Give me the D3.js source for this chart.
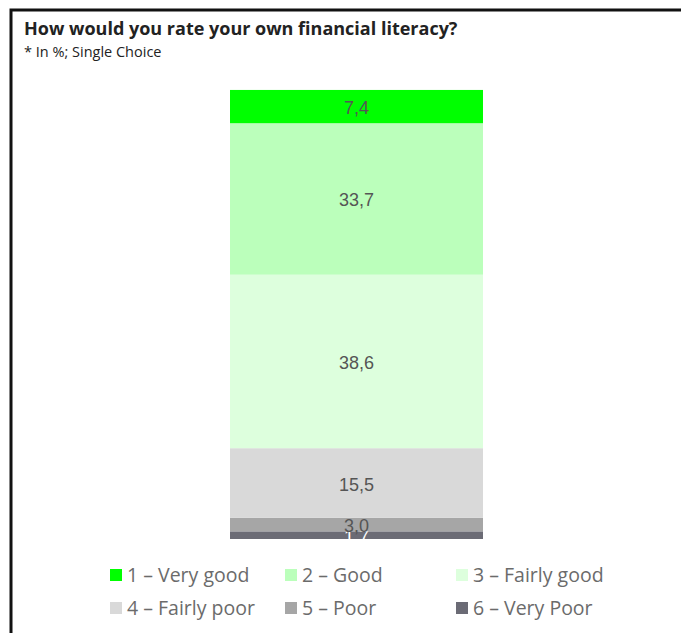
<!DOCTYPE html>
<html>
<head>
<meta charset="utf-8">
<script src="https://cdn.jsdelivr.net/npm/d3@7"></script>
<style>
  body { margin: 0; background: #fff; }
  svg { display: block; }
</style>
</head>
<body>
<div id="chart"></div>
<script>
// data
const categories = ["1 – Very good", "2 – Good", "3 – Fairly good", "4 – Fairly poor", "5 – Poor", "6 – Very Poor"];
const values = [7.4, 33.7, 38.6, 15.5, 3.0, 1.7];
const colors = ["#00ff00", "#bbffbb", "#ddffdd", "#d9d9d9", "#a6a6a6", "#6b6b75"];
const labelColors = ["#555555", "#555555", "#555555", "#555555", "#555555", "#ffffff"];

const width = 681, height = 633;

const svg = d3.select("#chart")
    .append("svg")
    .attr("width", width)
    .attr("height", height);

// frame (only top and left edges are visible)
svg.append("path")
    .attr("d", `M11,${height} L11,10 L${width},10`)
    .attr("fill", "none")
    .attr("stroke", "#111")
    .attr("stroke-width", 3);

// title
svg.append("text")
    .attr("x", 24)
    .attr("y", 35)
    .style("font-family", "'Open Sans', sans-serif")
    .style("font-weight", "bold")
    .style("font-size", "18px")
    .style("fill", "#222")
    .text("How would you rate your own financial literacy?");

svg.append("text")
    .attr("x", 24)
    .attr("y", 57)
    .style("font-family", "'Open Sans', sans-serif")
    .style("font-size", "14.5px")
    .style("fill", "#222")
    .text("* In %; Single Choice");

// scales
const x = d3.scaleBand()
    .domain(["all"])
    .range([230, 483])
    .padding(0);

const y = d3.scaleLinear()
    .domain([0, 100])
    .range([539, 89.5]);

// stacked data, first category on top
const row = {key: "all"};
categories.forEach((c, i) => row[c] = values[i]);
const stackKeys = categories.slice().reverse();
const series = d3.stack().keys(stackKeys)([row]);

const segs = svg.append("g")
    .selectAll("g")
    .data(series)
    .enter()
    .append("g");

segs.append("rect")
    .attr("x", x("all"))
    .attr("width", x.bandwidth())
    .attr("y", d => y(d[0][1]))
    .attr("height", d => y(d[0][0]) - y(d[0][1]))
    .style("fill", d => colors[categories.indexOf(d.key)]);

segs.append("text")
    .attr("x", x("all") + x.bandwidth() / 2)
    .attr("y", d => (y(d[0][0]) + y(d[0][1])) / 2 + 1)
    .attr("dy", "0.36em")
    .attr("text-anchor", "middle")
    .style("font-family", "'Liberation Sans', Arial, sans-serif")
    .style("font-size", "18px")
    .style("fill", d => labelColors[categories.indexOf(d.key)])
    .text(d => d3.format(".1f")(row[d.key]).replace(".", ","));

// legend
const legX = [110, 285, 456];
const legY = [575, 608];

const leg = svg.append("g")
    .selectAll("g")
    .data(categories)
    .enter()
    .append("g")
    .attr("transform", (d, i) => `translate(${legX[i % 3]}, ${legY[Math.floor(i / 3)]})`);

leg.append("rect")
    .attr("x", 0)
    .attr("y", -6)
    .attr("width", 12)
    .attr("height", 12)
    .style("fill", (d, i) => colors[i]);

leg.append("text")
    .attr("x", 17)
    .attr("y", 0)
    .attr("dy", "0.35em")
    .style("font-family", "'Open Sans', sans-serif")
    .style("font-size", "19.5px")
    .style("fill", "#6b6b6b")
    .text(d => d);
</script>
</body>
</html>
